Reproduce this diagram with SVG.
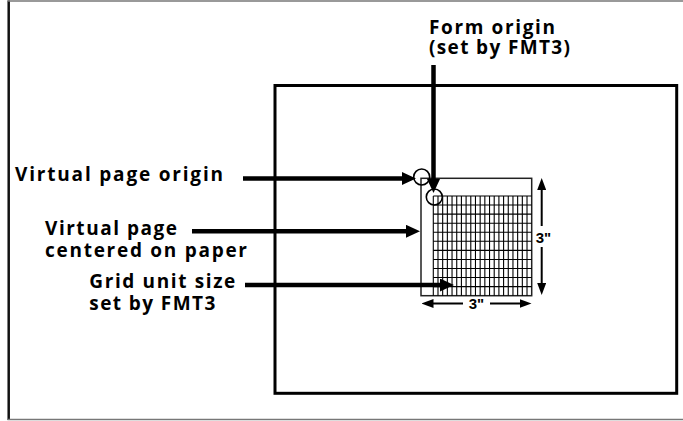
<svg xmlns="http://www.w3.org/2000/svg" width="683" height="421" viewBox="0 0 683 421">
<style>
.lbl{font-family:"Open Sans","DejaVu Sans",sans-serif;font-weight:700;font-size:19px;fill:#000}
.dim{font-family:"Liberation Sans",Arial,sans-serif;font-weight:700;font-size:15px;fill:#000;text-anchor:middle}
.arr{stroke:#000;stroke-width:4.5;fill:none;marker-end:url(#ah)}
.darr{stroke:#000;stroke-width:2;fill:none;marker-end:url(#dh)}
.grid line{stroke:#000;stroke-width:1.1}
.circ{fill:none;stroke:#000;stroke-width:1.6}
</style>
<defs>
<marker id="ah" markerUnits="userSpaceOnUse" markerWidth="14" markerHeight="13" refX="1" refY="6.5" orient="auto"><path d="M0,0L14,6.5L0,13z" fill="#000"/></marker>
<marker id="dh" markerUnits="userSpaceOnUse" markerWidth="12" markerHeight="9" refX="1" refY="4.5" orient="auto"><path d="M0,0L12,4.5L0,9z" fill="#000"/></marker>
</defs>
<rect width="683" height="421" fill="#fff"/>
<g id="frame">
<line x1="8.7" y1="0.5" x2="8.7" y2="420" stroke="#111" stroke-width="2.5"/>
<line x1="7.5" y1="1" x2="683" y2="1" stroke="#777" stroke-width="1.5"/>
<line x1="7.5" y1="419.5" x2="683" y2="419.5" stroke="#777" stroke-width="1.5"/>
</g>
<g id="paper">
<rect x="275" y="85.5" width="401.7" height="307.8" fill="none" stroke="#000" stroke-width="3"/>
</g>
<g id="virtual-page">
<rect x="421" y="178.3" width="110.7" height="117.4" fill="none" stroke="#222" stroke-width="1.5"/>
</g>
<g id="grid" class="grid">
<line x1="433.3" y1="196" x2="531.7" y2="196"/>
<line x1="433.3" y1="205.06" x2="531.7" y2="205.06"/>
<line x1="433.3" y1="214.13" x2="531.7" y2="214.13"/>
<line x1="433.3" y1="223.19" x2="531.7" y2="223.19"/>
<line x1="433.3" y1="232.25" x2="531.7" y2="232.25"/>
<line x1="433.3" y1="241.32" x2="531.7" y2="241.32"/>
<line x1="433.3" y1="250.38" x2="531.7" y2="250.38"/>
<line x1="433.3" y1="259.45" x2="531.7" y2="259.45"/>
<line x1="433.3" y1="268.51" x2="531.7" y2="268.51"/>
<line x1="433.3" y1="277.57" x2="531.7" y2="277.57"/>
<line x1="433.3" y1="286.64" x2="531.7" y2="286.64"/>
<line x1="433.3" y1="196" x2="433.3" y2="295.7"/>
<line x1="437.99" y1="196" x2="437.99" y2="295.7"/>
<line x1="442.67" y1="196" x2="442.67" y2="295.7"/>
<line x1="447.36" y1="196" x2="447.36" y2="295.7"/>
<line x1="452.04" y1="196" x2="452.04" y2="295.7"/>
<line x1="456.73" y1="196" x2="456.73" y2="295.7"/>
<line x1="461.41" y1="196" x2="461.41" y2="295.7"/>
<line x1="466.10" y1="196" x2="466.10" y2="295.7"/>
<line x1="470.79" y1="196" x2="470.79" y2="295.7"/>
<line x1="475.47" y1="196" x2="475.47" y2="295.7"/>
<line x1="480.16" y1="196" x2="480.16" y2="295.7"/>
<line x1="484.84" y1="196" x2="484.84" y2="295.7"/>
<line x1="489.53" y1="196" x2="489.53" y2="295.7"/>
<line x1="494.21" y1="196" x2="494.21" y2="295.7"/>
<line x1="498.90" y1="196" x2="498.90" y2="295.7"/>
<line x1="503.59" y1="196" x2="503.59" y2="295.7"/>
<line x1="508.27" y1="196" x2="508.27" y2="295.7"/>
<line x1="512.96" y1="196" x2="512.96" y2="295.7"/>
<line x1="517.64" y1="196" x2="517.64" y2="295.7"/>
<line x1="522.33" y1="196" x2="522.33" y2="295.7"/>
<line x1="527.01" y1="196" x2="527.01" y2="295.7"/>
</g>
<g id="origin-circles">
<circle class="circ" cx="421.7" cy="177" r="8"/>
<circle class="circ" cx="434.3" cy="197" r="8"/>
</g>
<g id="labels">
<text class="lbl" x="15" y="180.7" textLength="208" lengthAdjust="spacing">Virtual page origin</text>
<text class="lbl" x="45" y="235" textLength="132" lengthAdjust="spacing">Virtual page</text>
<text class="lbl" x="45" y="256.7" textLength="202" lengthAdjust="spacing">centered on paper</text>
<text class="lbl" x="89.3" y="288.3" textLength="146" lengthAdjust="spacing">Grid unit size</text>
<text class="lbl" x="89.3" y="309.5" textLength="126" lengthAdjust="spacing">set by FMT3</text>
<text class="lbl" x="429" y="34" textLength="126" lengthAdjust="spacing">Form origin</text>
<text class="lbl" x="429" y="54" textLength="141" lengthAdjust="spacing">(set by FMT3)</text>
</g>
<g id="connectors">
<path class="arr" d="M243,178.5H403"/>
<path class="arr" d="M192,231.3H407"/>
<path class="arr" d="M245,285H441"/>
<path class="arr" d="M433.5,65V180"/>
<path class="darr" d="M463,303.5H432.5"/>
<path class="darr" d="M490,303.5H520.5"/>
<path class="darr" d="M541.7,226V189"/>
<path class="darr" d="M541.7,247V284"/>
</g>
<g id="dimension-labels">
<text class="dim" x="543.5" y="242.5">3"</text>
<text class="dim" x="476.5" y="309">3"</text>
</g>
</svg>
